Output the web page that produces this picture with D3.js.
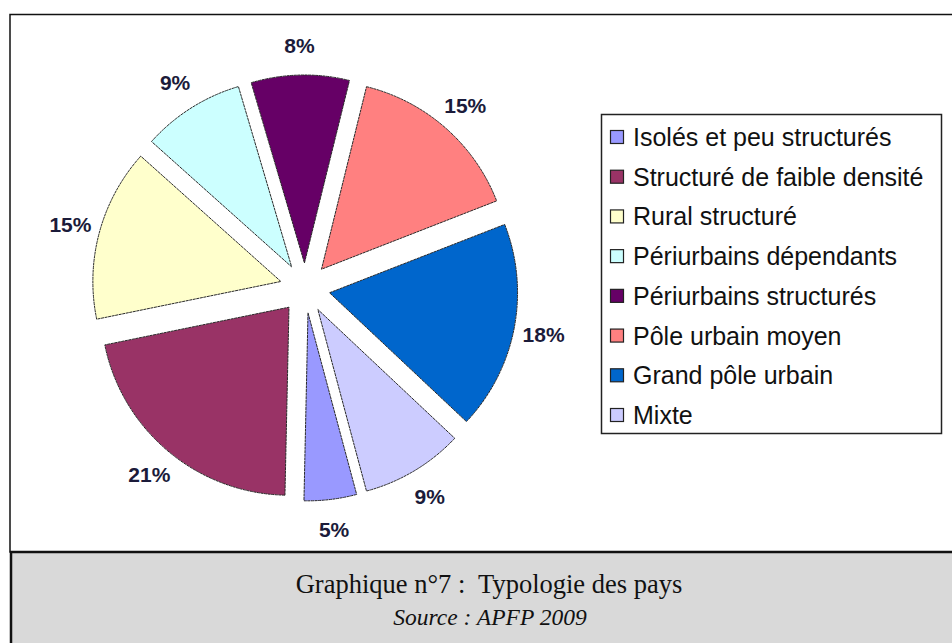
<!DOCTYPE html>
<html>
<head>
<meta charset="utf-8">
<script src="https://cdn.jsdelivr.net/npm/d3@7"></script>
<style>
  body { margin: 0; background: #fff; }
  svg { display: block; }
</style>
</head>
<body>
<div class="chart"></div>
<script>
'use strict';
// categories, in the order of the legend (and clockwise around the pie)
var categories = [
  'Isolés et peu structurés',
  'Structuré de faible densité',
  'Rural structuré',
  'Périurbains dépendants',
  'Périurbains structurés',
  'Pôle urbain moyen',
  'Grand pôle urbain',
  'Mixte'
];
// shares in % (labels show them rounded)
var shares = [4.5, 21.4, 14.8, 8.8, 8.4, 15.2, 17.9, 8.8];
var colors = ['#9999ff', '#993366', '#ffffcc', '#ccffff', '#660066', '#ff8080', '#0066cc', '#ccccff'];

var width = 952, height = 643;

var svg = d3.select('.chart').append('svg')
  .attr('width', width)
  .attr('height', height);

// chart frame
svg.append('rect')
  .attr('x', 10).attr('y', 14.5)
  .attr('width', 980).attr('height', 537.5)
  .attr('fill', '#fff')
  .attr('stroke', '#111')
  .attr('stroke-width', 1.5);

// caption frame
svg.append('rect')
  .attr('x', 11).attr('y', 552)
  .attr('width', 980).attr('height', 120)
  .attr('fill', '#d9d9d9')
  .attr('stroke', '#111')
  .attr('stroke-width', 2.5);

svg.append('text')
  .attr('x', 489).attr('y', 593)
  .attr('text-anchor', 'middle')
  .style('white-space', 'pre')
  .style('font-family', '"Liberation Serif", "Times New Roman", serif')
  .style('font-size', '26.5px')
  .style('fill', '#111')
  .text('Graphique n°7 :  Typologie des pays');

svg.append('text')
  .attr('x', 490).attr('y', 625)
  .attr('text-anchor', 'middle')
  .style('font-family', '"Liberation Serif", "Times New Roman", serif')
  .style('font-style', 'italic')
  .style('font-size', '23.5px')
  .style('fill', '#111')
  .text('Source : APFP 2009');

///////////////////////PIE///////////////////////////////
var cx = 305, cy = 288, radius = 188, explode = 25, labelRadius = 243;
var start = 165 * Math.PI / 180;

var pie = d3.pie()
  .sort(null)
  .startAngle(start)
  .endAngle(start + 2 * Math.PI)
  .value(function(d) { return d; });

var arc = d3.arc()
  .innerRadius(0)
  .outerRadius(radius);

var arcs = pie(shares);

var g = svg.append('g')
  .attr('transform', 'translate(' + cx + ',' + cy + ')');

g.selectAll('.slice')
  .data(arcs)
  .enter().append('path')
  .attr('class', 'slice')
  .attr('d', arc)
  .attr('transform', function(d) {
    var m = (d.startAngle + d.endAngle) / 2;
    return 'translate(' + (explode * Math.sin(m)) + ',' + (-explode * Math.cos(m)) + ')';
  })
  .attr('fill', function(d, i) { return colors[i]; })
  .attr('stroke', '#2a2a2a')
  .attr('stroke-width', 1)
  .attr('stroke-dasharray', '3,0.6');

g.selectAll('.pct')
  .data(arcs)
  .enter().append('text')
  .attr('class', 'pct')
  .attr('x', function(d) {
    return labelRadius * Math.sin((d.startAngle + d.endAngle) / 2);
  })
  .attr('y', function(d) {
    return -labelRadius * Math.cos((d.startAngle + d.endAngle) / 2);
  })
  .attr('dy', '0.36em')
  .attr('text-anchor', 'middle')
  .style('font-family', '"Liberation Sans", Arial, sans-serif')
  .style('font-weight', 'bold')
  .style('font-size', '21px')
  .style('fill', '#1b1b3a')
  .text(function(d) { return Math.round(d.data) + '%'; });

///////////////////////LEGEND///////////////////////////////
var legend = svg.append('g');

legend.append('rect')
  .attr('x', 601.5).attr('y', 114.5)
  .attr('width', 340).attr('height', 319)
  .attr('fill', '#fff')
  .attr('stroke', '#222')
  .attr('stroke-width', 1.5);

var rowY = d3.scalePoint()
  .domain(categories)
  .range([137, 415]);

var item = legend.selectAll('.item')
  .data(categories)
  .enter().append('g')
  .attr('class', 'item')
  .attr('transform', function(d) { return 'translate(0,' + rowY(d) + ')'; });

item.append('rect')
  .attr('x', 610.5).attr('y', -6.5)
  .attr('width', 13).attr('height', 13)
  .attr('fill', function(d, i) { return colors[i]; })
  .attr('stroke', '#222')
  .attr('stroke-width', 1.2);

item.append('text')
  .attr('x', 633)
  .attr('dy', '0.36em')
  .style('font-family', '"Liberation Sans", Arial, sans-serif')
  .style('font-size', '25px')
  .style('fill', '#111')
  .text(function(d) { return d; });
</script>
</body>
</html>
